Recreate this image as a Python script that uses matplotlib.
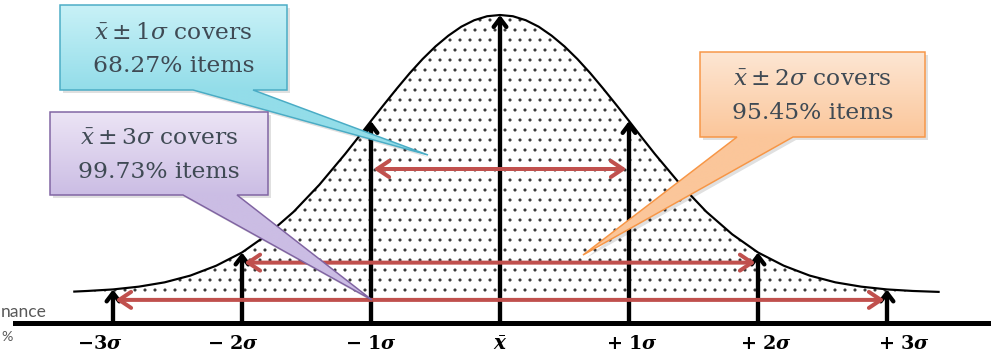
import numpy as np
import matplotlib
matplotlib.use('Agg')
import matplotlib.pyplot as plt
from matplotlib.patches import Polygon
from matplotlib.colors import LinearSegmentedColormap
from matplotlib.transforms import ScaledTranslation

plt.rcParams['mathtext.fontset'] = 'dejavuserif'
plt.rcParams['font.family'] = 'DejaVu Serif'
plt.rcParams['hatch.linewidth'] = 1.3

# bell curve (x in sigma, height relative to the peak)
curve_x = [-3.3, -3.2, -3.0, -2.8, -2.6, -2.4, -2.2, -2.0, -1.8, -1.6, -1.4, -1.2,
           -1.1, -1.0, -0.9, -0.8, -0.7, -0.6, -0.5, -0.4, -0.3, -0.2, -0.1, 0.0,
           0.1, 0.2, 0.3, 0.4, 0.5, 0.6, 0.7, 0.8, 0.9, 1.0, 1.1, 1.2,
           1.4, 1.6, 1.8, 2.0, 2.2, 2.4, 2.6, 2.8, 3.0, 3.2, 3.4]
curve_y = [0.102, 0.104, 0.109, 0.118, 0.132, 0.154, 0.186, 0.229, 0.288, 0.361, 0.449, 0.549,
           0.602, 0.656, 0.709, 0.761, 0.811, 0.857, 0.898, 0.933, 0.962, 0.983, 0.996, 1.000,
           0.996, 0.983, 0.962, 0.933, 0.898, 0.857, 0.811, 0.761, 0.709, 0.656, 0.602, 0.549,
           0.449, 0.361, 0.288, 0.229, 0.186, 0.154, 0.132, 0.118, 0.109, 0.104, 0.101]

sigma_pos = [-3, -2, -1, 0, 1, 2, 3]
sigma_labels = [r'$\mathbf{-3}\boldsymbol{\sigma}$', r'$\mathbf{-\ 2}\boldsymbol{\sigma}$',
                r'$\mathbf{-\ 1}\boldsymbol{\sigma}$', r'$\bar{\boldsymbol{x}}$',
                r'$\mathbf{+\ 1}\boldsymbol{\sigma}$', r'$\mathbf{+\ 2}\boldsymbol{\sigma}$',
                r'$\mathbf{+\ 3}\boldsymbol{\sigma}$']

band_k = [1, 2, 3]
band_h = [0.50, 0.196, 0.075]
band_pct = ['68.27%', '95.45%', '99.73%']

fill_floor = 0.088
red = '#C0504D'
txt_col = '#3f4a54'

DPI = 60
fig = plt.figure(figsize=(991 / DPI, 360 / DPI), dpi=DPI, facecolor='white')

# main axes: bottom edge on the baseline, 129 px per sigma, mean at px 500
ax = fig.add_axes([0, 37 / 360, 1, 323 / 360])
ax.set_xlim(-500 / 129, 491 / 129)
ax.set_ylim(0, 323 / 308)

cx = np.array(curve_x)
cy = np.array(curve_y)
ax.fill_between(cx, cy, fill_floor, where=cy > fill_floor, facecolor='white',
                edgecolor='#333333', linewidth=0, hatch='.', zorder=1)
ax.plot(cx, cy, color='black', lw=2.6, zorder=2)
ax.axhline(0, xmin=0.015, color='black', lw=6, clip_on=False, zorder=3)

# black arrows from the baseline up to the curve
tops = dict(zip(curve_x, curve_y))
for s in sigma_pos:
    ax.annotate('', xy=(s, tops[s]), xytext=(s, 0),
                arrowprops=dict(arrowstyle='->,head_length=0.5,head_width=0.38',
                                color='black', lw=5.2, mutation_scale=20,
                                shrinkA=0, shrinkB=0), zorder=4)

# red double arrows for the three bands
for k, h in zip(band_k, band_h):
    ax.annotate('', xy=(k, h), xytext=(-k, h),
                arrowprops=dict(arrowstyle='<->,head_length=0.6,head_width=0.4',
                                color=red, lw=4.8, mutation_scale=24,
                                shrinkA=3, shrinkB=3), zorder=5)

ax.set_xticks(sigma_pos, sigma_labels)
ax.tick_params(axis='x', length=0, pad=14, labelsize=23, colors='black')
ax.set_yticks([])
for sp in ax.spines.values():
    sp.set_visible(False)
dxs = [-13, -9, 0, 0, 3, 8, 17]
for lab, dx in zip(ax.get_xticklabels(), dxs):
    lab.set_transform(lab.get_transform() + ScaledTranslation(dx / DPI, 0, fig.dpi_scale_trans))
ax.get_xticklabels()[3].set_fontsize(24)

# overlay in pixel units for the callouts
ov = fig.add_axes([0, 0, 1, 1], zorder=3)
ov.patch.set_alpha(0)
ov.axis('off')


def callout(box, base, tip, lines, top, bottom, edge):
    x0, y0, x1, y1 = box
    verts = [(x0, y0), (x1, y0), (x1, y1), (base[1], y1), tip, (base[0], y1), (x0, y1)]
    sh = Polygon([(x + 3, y + 3) for x, y in verts], closed=True, fc='#000000',
                 alpha=0.12, lw=0, zorder=4)
    ov.add_patch(sh)
    poly = Polygon(verts, closed=True, fc='none', ec=edge, lw=1.8, zorder=6)
    ov.add_patch(poly)
    ymax = max(y1, tip[1])
    xmin = min(x0, tip[0])
    xmax = max(x1, tip[0])
    yy = np.linspace(y0, ymax, 200)
    grad = np.clip((yy - y0) / (y1 - y0), 0, 1)[:, None]
    cmap = LinearSegmentedColormap.from_list('g', [top, bottom])
    img = ov.imshow(grad, cmap=cmap, extent=(xmin, xmax, ymax, y0), aspect='auto',
                    zorder=5, interpolation='bilinear')
    img.set_clip_path(poly)
    xc = (x0 + x1) / 2
    ov.text(xc, y0 + (y1 - y0) * 0.33, lines[0], ha='center', va='center',
            fontsize=28, color=txt_col, zorder=7)
    ov.text(xc, y0 + (y1 - y0) * 0.72, lines[1], ha='center', va='center',
            fontsize=28, color=txt_col, zorder=7)


callout((60, 5, 287, 90), (193, 253), (428, 155),
        (r'$\bar{x} \pm 1\sigma$ covers', band_pct[0] + ' items'),
        '#c8f1f7', '#93dde9', '#4aacc5')
callout((50, 112, 268, 195), (183, 237), (372, 300),
        (r'$\bar{x} \pm 3\sigma$ covers', band_pct[2] + ' items'),
        '#ece4f5', '#cbbde4', '#8064a2')
callout((700, 52, 925, 137), (737, 793), (583, 255),
        (r'$\bar{x} \pm 2\sigma$ covers', band_pct[1] + ' items'),
        '#fde6d3', '#fbc69a', '#f79646')

ov.text(1, 312, 'nance', ha='left', va='center', fontsize=21, color='#595959',
        family='Lato')
ov.text(1, 337, '%', ha='left', va='center', fontsize=17, color='#595959',
        family='Lato')

ov.set_xlim(0, 991)
ov.set_ylim(360, 0)

fig.savefig('out.png', dpi=DPI, facecolor='white')
